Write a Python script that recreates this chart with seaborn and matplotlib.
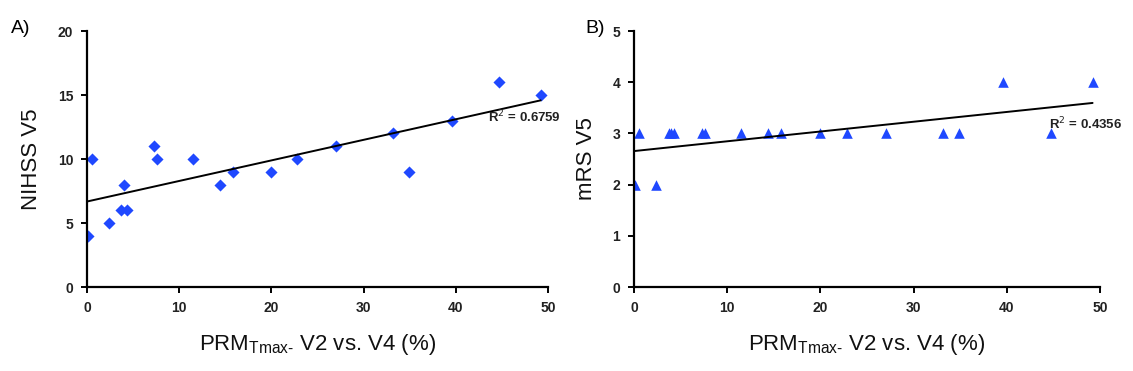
import matplotlib
matplotlib.use("Agg")
import matplotlib.pyplot as plt
import seaborn as sns
import pandas as pd

# PRM Tmax- V2 vs V4 (%) per patient
prm = [0.1, 0.5, 2.4, 3.7, 4.0, 4.3, 7.3, 7.6, 11.5, 14.4,
       15.8, 20.0, 22.8, 27.0, 33.2, 34.9, 39.6, 44.7, 49.2]
nihss = [4, 10, 5, 6, 8, 6, 11, 10, 10, 8,
         9, 9, 10, 11, 12, 9, 13, 16, 15]
mrs = [2, 3, 2, 3, 3, 3, 3, 3, 3, 3,
       3, 3, 3, 3, 3, 3, 4, 3, 4]
r2_labels = ['R$^2$ = 0.6759', 'R$^2$ = 0.4356']

sns.set_style('white')
plt.rcParams['font.family'] = ['Liberation Sans', 'DejaVu Sans']

df = pd.DataFrame({'prm': prm, 'nihss': nihss, 'mrs': mrs})
blue = '#1f48ff'

fig = plt.figure(figsize=(11.33, 3.71), dpi=100)
ax_a = fig.add_axes([0.0768, 0.2264, 0.4069, 0.69])
ax_b = fig.add_axes([0.5596, 0.2264, 0.4113, 0.69])

sns.regplot(data=df, x='prm', y='nihss', ax=ax_a, ci=None, marker='D',
            scatter_kws={'color': blue, 's': 38, 'linewidths': 0, 'alpha': 1},
            line_kws={'color': 'black', 'lw': 1.4})
sns.regplot(data=df, x='prm', y='mrs', ax=ax_b, ci=None, marker='^',
            scatter_kws={'color': blue, 's': 58, 'linewidths': 0, 'alpha': 1},
            line_kws={'color': 'black', 'lw': 1.4})

ax_a.set_ylim(0, 20)
ax_a.set_yticks([0, 5, 10, 15, 20])
ax_b.set_ylim(0, 5)
ax_b.set_yticks([0, 1, 2, 3, 4, 5])

for ax, ylab, r2, pos, tag in [(ax_a, 'NIHSS V5', r2_labels[0], (43.5, 12.9), 'A)'),
                               (ax_b, 'mRS V5', r2_labels[1], (44.5, 3.08), 'B)')]:
    ax.set_xlim(0, 50)
    ax.set_xticks([0, 10, 20, 30, 40, 50])
    sns.despine(ax=ax)
    for s in ['left', 'bottom']:
        ax.spines[s].set_color('black')
        ax.spines[s].set_linewidth(1.6)
    ax.tick_params(axis='both', direction='out', length=4, width=1.4, color='black',
                   labelsize=10, labelcolor='#222222', pad=6, bottom=True, left=True)
    for lbl in ax.get_xticklabels() + ax.get_yticklabels():
        lbl.set_fontweight('bold')
    ax.set_ylabel(ylab, fontsize=16, color='#111111', labelpad=11)
    ax.set_xlabel('PRM$_{\\mathregular{Tmax\u2010}}$ V2 vs. V4 (%)', fontsize=16,
                  color='#111111', labelpad=12)
    ax.text(pos[0], pos[1], r2, fontsize=9.5, fontweight='bold', color='#222222')
    ax.text(-0.165 if tag == 'A)' else -0.105, 1.01, tag, transform=ax.transAxes,
            fontsize=14, color='black', va='center')

fig.savefig('out.png', dpi=100)
